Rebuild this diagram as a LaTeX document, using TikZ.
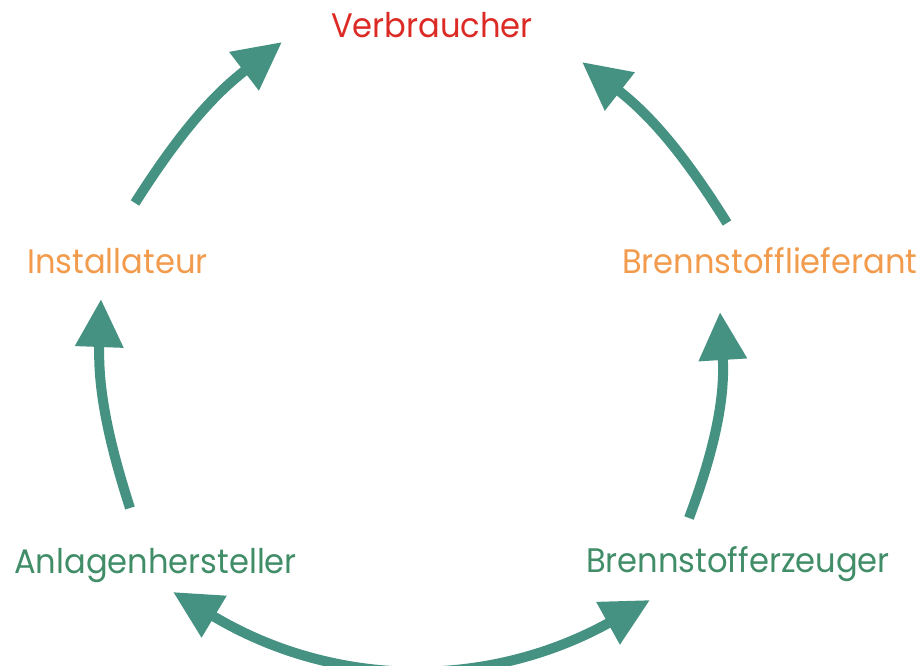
\documentclass[tikz,border=0pt]{standalone}
\usepackage{fontspec}
\setmainfont[FakeStretch=0.945]{Poppins}
\usetikzlibrary{arrows.meta}
\definecolor{arrowc}{RGB}{69,146,130}
\definecolor{redc}{RGB}{220,42,36}
\definecolor{orangec}{RGB}{242,155,76}
\definecolor{greenc}{RGB}{64,141,104}
\begin{document}
\begin{tikzpicture}[x=1pt,y=-1pt,
  lbl/.style={inner sep=0pt, anchor=base west, font=\fontsize{34}{40}\selectfont},
  conn/.style={draw=arrowc, line width=10pt, -{Triangle[length=48pt,width=46pt]}},
  dconn/.style={draw=arrowc, line width=10pt, {Triangle[length=48pt,width=46pt]}-{Triangle[length=48pt,width=46pt]}}]
\useasboundingbox (0,0) rectangle (923,665);
\node[lbl, text=redc] (verb) at (331,37) {Verbraucher};
\node[lbl, text=orangec] (inst) at (27,273) {Installateur};
\node[lbl, text=orangec] (lief) at (622,273) {Brennstofflieferant};
\node[lbl, text=greenc] (anl) at (14,573) {Anlagenhersteller};
\node[lbl, text=greenc] (erz) at (586,572) {Brennstofferzeuger};
\coordinate (a1s) at (135,203); \coordinate (a1e) at (282,42);
\coordinate (a2s) at (727,223); \coordinate (a2e) at (582,62);
\coordinate (a3s) at (130,508); \coordinate (a3e) at (101,299);
\coordinate (a4s) at (689,518); \coordinate (a4e) at (720,312);
\coordinate (a5s) at (173,592); \coordinate (a5e) at (650,600);
\draw[conn] (a1s) to[bend left=10] (a1e);
\draw[conn] (a2s) to[bend right=10] (a2e);
\draw[conn] (a3s) to[bend left=10] (a3e);
\draw[conn] (a4s) to[bend right=12] (a4e);
\draw[dconn] (a5s) to[bend right=30] (a5e);
\end{tikzpicture}
\end{document}
